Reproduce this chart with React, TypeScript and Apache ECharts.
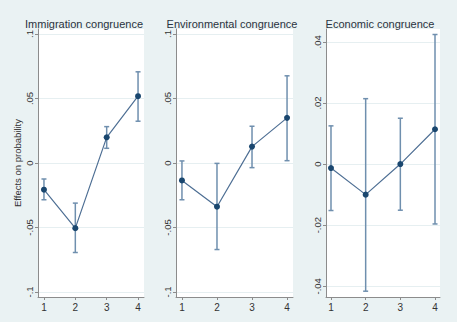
import React, { useEffect, useRef } from "react";
import * as echarts from "echarts";

const categories = [1, 2, 3, 4];
const panelTitles = ["Immigration congruence", "Environmental congruence", "Economic congruence"];

const immEst = [-0.0207, -0.0505, 0.0199, 0.0518];
const immLo = [-0.0285, -0.0694, 0.0114, 0.0324];
const immHi = [-0.0124, -0.0311, 0.0282, 0.0707];

const envEst = [-0.0135, -0.0339, 0.0127, 0.035];
const envLo = [-0.0285, -0.0671, -0.0036, 0.0018];
const envHi = [0.0016, -0.0003, 0.0285, 0.0676];

const ecoEst = [-0.0013, -0.01, 0.0, 0.0114];
const ecoLo = [-0.0152, -0.0416, -0.0151, -0.0196];
const ecoHi = [0.0125, 0.0214, 0.015, 0.0424];

const ticksWide = [-0.1, -0.05, 0, 0.05, 0.1];
const ticksNarrow = [-0.04, -0.02, 0, 0.02, 0.04];

const FONT = "Liberation Sans, Arial, sans-serif";
const BG = "#eaf2f3";
const LINE = "#4e6f94";
const BAR = "#6f8fae";
const DOT = "#1a476f";
const AXIS = "#8c8c8c";

const fmt = (v: number) => {
  if (Math.abs(v) < 1e-12) return "0";
  const s = String(Math.abs(v)).replace(/^0/, "");
  return (v < 0 ? "-" : "") + s;
};

export default function App() {
  const ref = useRef<HTMLDivElement>(null);
  useEffect(() => {
    if (!ref.current) return;
    const chart = echarts.init(ref.current, undefined, { renderer: "svg" });
    const panels = [
      { est: immEst, lo: immLo, hi: immHi, ticks: ticksWide, ymin: -0.1039, ymax: 0.1039, xmin: 0.81, xmax: 4.19, left: 38, width: 106, tx: 79 },
      { est: envEst, lo: envLo, hi: envHi, ticks: ticksWide, ymin: -0.1039, ymax: 0.1039, xmin: 0.83, xmax: 4.17, left: 176, width: 117, tx: 227 },
      { est: ecoEst, lo: ecoLo, hi: ecoHi, ticks: ticksNarrow, ymin: -0.0435, ymax: 0.0442, xmin: 0.856, xmax: 4.144, left: 326, width: 114, tx: 375 },
    ];
    const grid: any[] = [];
    const xAxis: any[] = [];
    const yAxis: any[] = [];
    const series: any[] = [];
    const title: any[] = [];
    panels.forEach((p, i) => {
      grid.push({ left: p.left, top: 29, width: p.width, height: 268, show: true, backgroundColor: "#ffffff", borderWidth: 0 });
      title.push({
        text: panelTitles[i], left: p.tx, top: 13, textAlign: "center",
        textStyle: { fontFamily: FONT, fontSize: 11, fontWeight: "normal", color: "#2a3340" },
      });
      xAxis.push({
        type: "value", gridIndex: i, min: p.xmin, max: p.xmax,
        axisLine: { show: true, onZero: false, lineStyle: { color: AXIS, width: 1 } },
        axisTick: { show: true, length: 3, customValues: categories, lineStyle: { color: AXIS } },
        axisLabel: { customValues: categories, fontFamily: FONT, fontSize: 10, color: "#333", margin: 5 },
        splitLine: { show: false },
      });
      yAxis.push({
        type: "value", gridIndex: i, min: p.ymin, max: p.ymax,
        name: i === 0 ? "Effects on probability" : "",
        nameLocation: "middle", nameGap: 16, nameRotate: 90,
        nameTextStyle: { fontFamily: FONT, fontSize: 9.5, color: "#333" },
        axisLine: { show: true, lineStyle: { color: AXIS, width: 1 } },
        axisTick: { show: true, length: 3, customValues: p.ticks, lineStyle: { color: AXIS } },
        axisLabel: { customValues: p.ticks, rotate: 90, formatter: fmt, fontFamily: FONT, fontSize: 9.5, color: "#333", margin: 4 },
        splitLine: { show: true, lineStyle: { color: "#e6eff1", width: 1 } },
      });
      series.push({
        type: "custom", xAxisIndex: i, yAxisIndex: i, z: 2,
        data: categories.map((c, k) => [c, p.lo[k], p.hi[k]]),
        renderItem: (params: any, api: any) => {
          const x = api.value(0);
          const a = api.coord([x, api.value(1)]);
          const b = api.coord([x, api.value(2)]);
          const w = 2.5;
          const st = { stroke: BAR, lineWidth: 1.5 };
          return {
            type: "group",
            children: [
              { type: "line", shape: { x1: a[0], y1: a[1], x2: b[0], y2: b[1] }, style: st },
              { type: "line", shape: { x1: a[0] - w, y1: a[1], x2: a[0] + w, y2: a[1] }, style: st },
              { type: "line", shape: { x1: b[0] - w, y1: b[1], x2: b[0] + w, y2: b[1] }, style: st },
            ],
          };
        },
      });
      series.push({
        type: "line", xAxisIndex: i, yAxisIndex: i, z: 3,
        data: categories.map((c, k) => [c, p.est[k]]),
        symbol: "circle", symbolSize: 6,
        lineStyle: { color: LINE, width: 1.2 },
        itemStyle: { color: DOT, borderWidth: 0 },
      });
    });
    chart.setOption({
      animation: false,
      backgroundColor: BG,
      title, grid, xAxis, yAxis, series,
    });
    return () => chart.dispose();
  }, []);
  return <div ref={ref} style={{ position: "absolute", left: 0, top: 0, width: 457, height: 322 }} />;
}
